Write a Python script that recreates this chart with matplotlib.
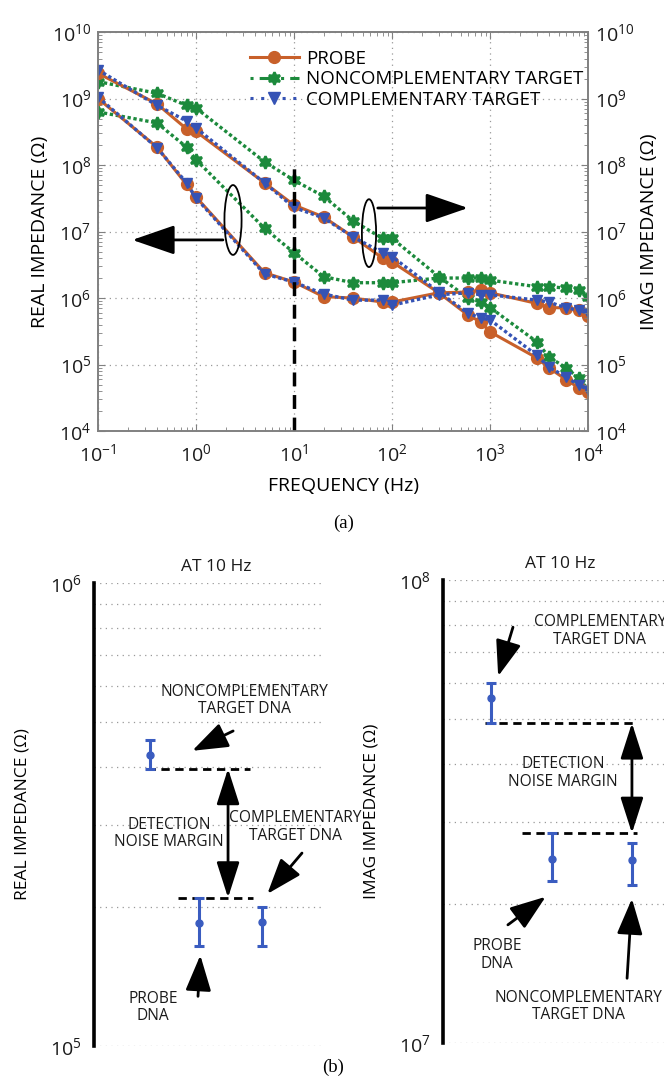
import matplotlib
matplotlib.use("Agg")
import matplotlib.pyplot as plt
from matplotlib.patches import Ellipse
from matplotlib.lines import Line2D
from matplotlib.ticker import LogLocator, NullFormatter

plt.rcParams['font.family'] = ['Open Sans', 'DejaVu Sans']

# ---- (a) impedance spectra ----
freq = [0.1, 0.4, 0.8, 1, 5, 10, 20, 40, 80, 100, 300, 600, 800, 1000,
        3000, 4000, 6000, 8000, 10000]

probe_real = [1.0e9, 1.86e8, 5.1e7, 3.3e7, 2.4e6, 1.74e6, 1.05e6, 1.0e6, 8.7e5, 8.7e5,
              1.2e6, 1.23e6, 1.32e6, 1.2e6, 8.3e5, 7.2e5, 7.1e5, 6.6e5, 5.4e5]
noncomp_real = [6.3e8, 4.3e8, 1.86e8, 1.2e8, 1.12e7, 4.8e6, 2.1e6, 1.7e6, 1.7e6, 1.7e6,
                2.0e6, 2.0e6, 2.0e6, 1.86e6, 1.48e6, 1.48e6, 1.41e6, 1.32e6, 1.05e6]
comp_real = [1.05e9, 1.82e8, 5.4e7, 3.2e7, 2.3e6, 1.74e6, 1.15e6, 9.3e5, 9.3e5, 7.8e5,
             1.12e6, 1.2e6, 1.12e6, 1.12e6, 9.3e5, 8.7e5, 7.1e5, 6.6e5, 5.9e5]

probe_imag = [2.4e9, 8.3e8, 3.5e8, 3.2e8, 5.4e7, 2.5e7, 1.66e7, 8.3e6, 4.0e6, 3.5e6,
              1.2e6, 5.5e5, 4.4e5, 3.1e5, 1.26e5, 8.9e4, 5.9e4, 4.5e4, 3.9e4]
noncomp_imag = [1.8e9, 1.2e9, 7.9e8, 7.2e8, 1.12e8, 5.9e7, 3.4e7, 1.45e7, 7.9e6, 7.9e6,
                2.1e6, 1.0e6, 8.7e5, 7.2e5, 2.2e5, 1.29e5, 8.9e4, 6.3e4, 4.2e4]
comp_imag = [2.7e9, 7.9e8, 4.6e8, 3.6e8, 5.4e7, 2.3e7, 1.6e7, 8.3e6, 4.8e6, 4.2e6,
             1.23e6, 5.9e5, 5.0e5, 4.7e5, 1.38e5, 9.1e4, 6.5e4, 4.9e4, 4.2e4]

labels = ["PROBE", "NONCOMPLEMENTARY TARGET", "COMPLEMENTARY TARGET"]

# ---- (b) values at 10 Hz ----
b_names = ["PROBE", "COMPLEMENTARY", "NONCOMPLEMENTARY"]
real_10hz = [1.845e5, 1.85e5, 4.25e5]
real_low = [1.64e5, 1.64e5, 3.97e5]
real_high = [2.09e5, 2.0e5, 4.58e5]
imag_10hz = [2.5e7, 5.56e7, 2.49e7]
imag_low = [2.24e7, 4.91e7, 2.2e7]
imag_high = [2.84e7, 6.0e7, 2.7e7]

ORANGE = '#c8602a'
GREEN = '#1c8a3c'
BLUE = '#3553b5'
EBLUE = '#3a5cc0'

fig = plt.figure(figsize=(6.64, 10.83), dpi=100)

ax = fig.add_axes([0.1476, 0.602, 0.738, 0.3684])
ax.set_xscale('log')
ax.set_yscale('log')

style = {
    'probe': dict(color=ORANGE, ls='-', lw=2.2, marker='o', ms=8.5, mec=ORANGE, mfc=ORANGE),
    'noncomp': dict(color=GREEN, ls=(0, (1, 0.8)), lw=2.4, marker=(6, 1, 0), ms=9, mew=1.8,
                    mec=GREEN, mfc=GREEN),
    'comp': dict(color=BLUE, ls=(0, (1, 0.8)), lw=2.4, marker='v', ms=7.5, mec=BLUE, mfc=BLUE),
}
ax.plot(freq, noncomp_imag, zorder=2, **style['noncomp'])
ax.plot(freq, noncomp_real, zorder=2, **style['noncomp'])
ax.plot(freq, probe_imag, zorder=3, **style['probe'])
ax.plot(freq, probe_real, zorder=3, **style['probe'])
ax.plot(freq, comp_imag, zorder=4, **style['comp'])
ax.plot(freq, comp_real, zorder=4, **style['comp'])

ax.set_xlim(0.1, 1e4)
ax.set_ylim(1e4, 1e10)
ax.vlines(10, 1e4, 9.5e7, colors='k', linestyles=(0, (4, 2.5)), lw=2.5, zorder=5)

ax.grid(True, which='major', ls=(0, (1, 3.5)), color='#999999', lw=0.9)
ax.xaxis.set_major_locator(LogLocator(base=10, numticks=10))
ax.yaxis.set_major_locator(LogLocator(base=10, numticks=10))
ax.tick_params(which='both', direction='in', top=True, right=False, colors='#808080',
               labelcolor='#1a1a1a', labelsize=14)
ax.tick_params(which='major', length=5)
ax.tick_params(which='minor', length=3)
ax.tick_params(axis='x', pad=9)
ax.tick_params(axis='y', pad=5)
for s in ax.spines.values():
    s.set_color('#808080')
    s.set_linewidth(1.2)

ax2 = ax.twinx()
ax2.set_yscale('log')
ax2.set_ylim(1e4, 1e10)
ax2.yaxis.set_major_locator(LogLocator(base=10, numticks=10))
ax2.tick_params(which='both', direction='in', colors='#808080', labelcolor='#1a1a1a',
                labelsize=14, pad=5)
ax2.tick_params(which='major', length=5)
ax2.tick_params(which='minor', length=3)
for s in ax2.spines.values():
    s.set_color('#808080')
    s.set_linewidth(1.2)

ax.set_ylabel('REAL IMPEDANCE (Ω)', fontsize=14, labelpad=2)
ax2.set_ylabel('IMAG IMPEDANCE (Ω)', fontsize=14, labelpad=4)
ax.set_xlabel('FREQUENCY (Hz)', fontsize=14, labelpad=8)

handles = [
    Line2D([], [], **style['probe']),
    Line2D([], [], color=GREEN, ls=(0, (1, 2, 5, 2)), lw=2.2, marker=(6, 1, 0), ms=9, mew=1.8,
           mfc=GREEN, mec=GREEN),
    Line2D([], [], color=BLUE, ls=(0, (1, 2.5)), lw=2.2, marker='v', ms=8, mfc=BLUE, mec=BLUE),
]
ax.legend(handles, labels, loc='upper left', bbox_to_anchor=(0.31, 0.955), frameon=False,
          fontsize=13.5, handlelength=2.6, handletextpad=0.4, labelspacing=0.12,
          borderpad=0, borderaxespad=0)

# ellipses and arrows marking real / imag groups
ax.add_patch(Ellipse((0.2755, 0.529), 0.035, 0.175, transform=ax.transAxes,
                     fill=False, ec='k', lw=1.3, zorder=6))
ax.annotate('', xy=(0.07, 0.479), xytext=(0.255, 0.479), xycoords='axes fraction',
            arrowprops=dict(arrowstyle='-|>,head_length=1.1,head_width=0.38', color='k',
                            lw=2.0, mutation_scale=24, shrinkA=0, shrinkB=0), zorder=6)
ax.add_patch(Ellipse((0.553, 0.496), 0.029, 0.17, transform=ax.transAxes,
                     fill=False, ec='k', lw=1.3, zorder=6))
ax.annotate('', xy=(0.755, 0.559), xytext=(0.571, 0.559), xycoords='axes fraction',
            arrowprops=dict(arrowstyle='-|>,head_length=1.1,head_width=0.38', color='k',
                            lw=2.0, mutation_scale=24, shrinkA=0, shrinkB=0), zorder=6)

fig.text(0.517, 1 - 523 / 1083, '(a)', family='Liberation Serif', fontsize=13.5,
         ha='center', va='center')
fig.text(0.502, 1 - 1067 / 1083, '(b)', family='Liberation Serif', fontsize=13.5,
         ha='center', va='center')


def side_panel(rect, ylo, yhi, xpos, mid, low, high, ylabel, texts, arrows, up_i, lo_i, dash_up, dash_lo, arr_x):
    a = fig.add_axes(rect)
    a.set_yscale('log')
    a.set_ylim(ylo, yhi)
    a.set_xlim(0, 1)
    a.yaxis.set_minor_formatter(NullFormatter())
    a.set_yticks([ylo, yhi])
    a.grid(True, axis='y', which='both', ls=(0, (1, 3.5)), color='#999999', lw=0.9)
    a.set_xticks([])
    for k in ['top', 'right', 'bottom']:
        a.spines[k].set_visible(False)
    a.spines['left'].set_linewidth(2.6)
    a.tick_params(which='both', length=0, labelsize=14, pad=9, labelcolor='#1a1a1a')
    a.set_ylabel(ylabel, fontsize=12.5, labelpad=14)
    yerr = [[m - l for m, l in zip(mid, low)], [h - m for m, h in zip(mid, high)]]
    a.errorbar(xpos, mid, yerr=yerr, fmt='o', color=EBLUE, ms=5, elinewidth=2.2,
               capsize=3.5, capthick=2.2, zorder=4)
    y_up = low[up_i]
    y_lo = high[lo_i]
    a.plot(dash_up, [y_up, y_up], color='k', ls=(0, (3, 2)), lw=2.0, zorder=3)
    a.plot(dash_lo, [y_lo, y_lo], color='k', ls=(0, (3, 2)), lw=2.0, zorder=3)
    a.annotate('', xy=(arr_x, y_up), xytext=(arr_x, y_lo),
               arrowprops=dict(arrowstyle='<|-|>,head_length=1.0,head_width=0.32', color='k',
                               lw=2.0, mutation_scale=22, shrinkA=0, shrinkB=0))
    for (tx, ty, s) in texts:
        a.text(tx, ty, s, ha='center', va='center', fontsize=11.2, linespacing=1.1, zorder=5,
               color='#1a1a1a')
    for (x0, y0, x1, y1) in arrows:
        a.annotate('', xy=(x1, y1), xytext=(x0, y0),
                   arrowprops=dict(arrowstyle='-|>,head_length=1.0,head_width=0.36', color='k',
                                   lw=2.0, mutation_scale=22, shrinkA=0, shrinkB=0))
    a.text(0.53, 1.035, 'AT 10 Hz', transform=a.transAxes, ha='center', va='center',
           fontsize=12.5, color='#1a1a1a')
    return a


side_panel([0.1416, 0.0342, 0.348, 0.4275], 1e5, 1e6, [0.455, 0.727, 0.242],
           real_10hz, real_low, real_high, 'REAL IMPEDANCE (Ω)',
           [(0.649, 5.58e5, 'NONCOMPLEMENTARY\nTARGET DNA'),
            (0.325, 2.88e5, 'DETECTION\nNOISE MARGIN'),
            (0.87, 2.97e5, 'COMPLEMENTARY\nTARGET DNA'),
            (0.255, 1.21e5, 'PROBE\nDNA')],
           [(0.602, 4.79e5, 0.425, 4.34e5),
            (0.9, 2.61e5, 0.75, 2.13e5),
            (0.45, 1.28e5, 0.46, 1.57e5)],
           2, 0, [0.229, 0.675], [0.363, 0.688], 0.58)

side_panel([0.667, 0.0369, 0.333, 0.4275], 1e7, 1e8, [0.493, 0.217, 0.855],
           imag_10hz, imag_low, imag_high, 'IMAG IMPEDANCE (Ω)',
           [(0.71, 7.76e7, 'COMPLEMENTARY\nTARGET DNA'),
            (0.543, 3.83e7, 'DETECTION\nNOISE MARGIN'),
            (0.244, 1.55e7, 'PROBE\nDNA'),
            (0.615, 1.2e7, 'NONCOMPLEMENTARY\nTARGET DNA')],
           [(0.317, 7.91e7, 0.25, 6.2e7),
            (0.294, 1.8e7, 0.465, 2.07e7),
            (0.833, 1.38e7, 0.855, 2.05e7)],
           1, 0, [0.19, 0.878], [0.357, 0.878], 0.855)

fig.savefig('out.png', dpi=100)
